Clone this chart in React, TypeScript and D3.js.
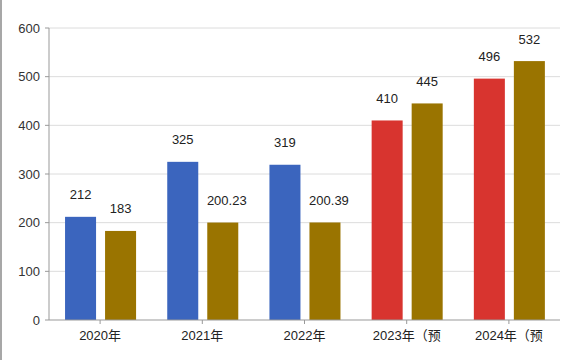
import React from "react";
import * as d3 from "d3";

const categories = ["2020年", "2021年", "2022年", "2023年（预", "2024年（预"];
const seriesA = [212, 325, 319, 410, 496];
const seriesB = [183, 200.23, 200.39, 445, 532];
const labelsA = ["212", "325", "319", "410", "496"];
const labelsB = ["183", "200.23", "200.39", "445", "532"];
const colorsA = ["#3B65BE", "#3B65BE", "#3B65BE", "#D8342F", "#D8342F"];
const colorB = "#9A7400";
const yTicks = [0, 100, 200, 300, 400, 500, 600];

const W = 578;
const H = 360;
const left = 49;
const right = 560;
const top = 28;
const bottom = 320;

export default function App() {
  const x0 = d3.scaleBand<string>().domain(categories).range([left, right]).padding(0);
  const bw = x0.bandwidth();
  const x1 = d3
    .scaleBand<string>()
    .domain(["a", "b"])
    .range([bw * 0.157, bw * 0.852])
    .paddingInner(0.225)
    .paddingOuter(0);
  const y = d3.scaleLinear().domain([0, 600]).range([bottom, top]);
  const font = "'Liberation Sans', Arial, 'Noto Sans CJK SC', sans-serif";

  return (
    <svg
      width={W}
      height={H}
      style={{ position: "absolute", left: 0, top: 0, background: "#fff" }}
      fontFamily={font}
    >
      <line x1={1} x2={1} y1={0} y2={H} stroke="#8a8a8a" strokeWidth={1.5} />
      {yTicks.map((t) => (
        <g key={t}>
          {t > 0 && (
            <line x1={left} x2={right} y1={y(t)} y2={y(t)} stroke="#dcdcdc" strokeWidth={1} />
          )}
          <line x1={left - 4} x2={left} y1={y(t)} y2={y(t)} stroke="#999" />
          <text x={left - 9} y={y(t)} textAnchor="end" dominantBaseline="central" fontSize={13} fill="#333">
            {t}
          </text>
        </g>
      ))}
      {categories.map((c, i) => {
        const bx = x0(c)!;
        const xa = bx + x1("a")!;
        const xb = bx + x1("b")!;
        const w = x1.bandwidth();
        return (
          <g key={c}>
            <rect x={xa} y={y(seriesA[i])} width={w} height={bottom - y(seriesA[i])} fill={colorsA[i]} />
            <rect x={xb} y={y(seriesB[i])} width={w} height={bottom - y(seriesB[i])} fill={colorB} />
            <text x={xa + w / 2} y={y(seriesA[i]) - 22} textAnchor="middle" dominantBaseline="central" fontSize={13} fill="#222">
              {labelsA[i]}
            </text>
            <text x={xb + w / 2 + (labelsB[i].length > 3 ? 4 : 0)} y={y(seriesB[i]) - 22} textAnchor="middle" dominantBaseline="central" fontSize={13} fill="#222">
              {labelsB[i]}
            </text>
            <line x1={bx + bw / 2} x2={bx + bw / 2} y1={bottom} y2={bottom + 4} stroke="#999" />
            <text x={bx + bw / 2} y={bottom + 15} textAnchor="middle" dominantBaseline="central" fontSize={13} fill="#222">
              {c}
            </text>
          </g>
        );
      })}
      <line x1={left} x2={left} y1={top} y2={bottom} stroke="#999" />
      <line x1={left} x2={right} y1={bottom} y2={bottom} stroke="#999" />
    </svg>
  );
}
